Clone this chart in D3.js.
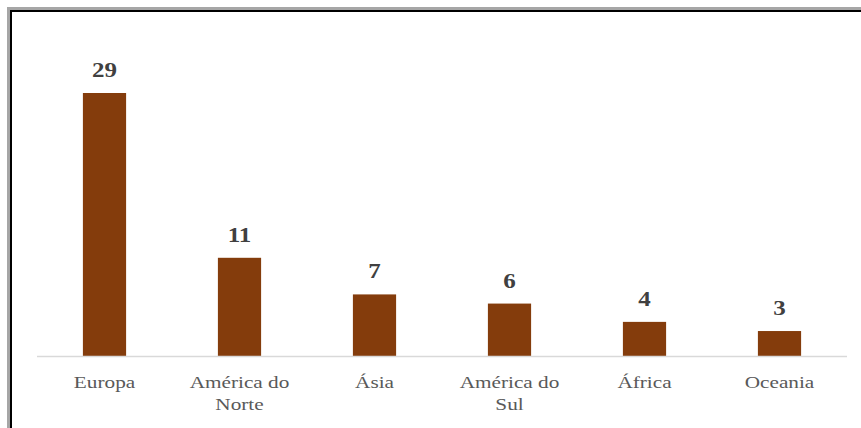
<!DOCTYPE html>
<html>
<head>
<meta charset="utf-8">
<script src="https://cdn.jsdelivr.net/npm/d3@7"></script>
<style>
  body { margin: 0; background: #fff; }
  svg text { font-family: "Liberation Serif", "Times New Roman", Times, serif; }
</style>
</head>
<body>
<script>
const regions = ["Europa", "América do Norte", "Ásia", "América do Sul", "África", "Oceania"];
const counts = [29, 11, 7, 6, 4, 3];
const labelLines = [["Europa"], ["América do", "Norte"], ["Ásia"], ["América do", "Sul"], ["África"], ["Oceania"]];

const width = 861, height = 428;
const stretch = 1.25; // glyphs in the picture look wide

const svg = d3.select("body").append("svg")
  .attr("width", width)
  .attr("height", height);

// frame: grey outer edge, black inner edge (top and left only, picture is cropped)
svg.append("rect").attr("x", 7).attr("y", 7).attr("width", width).attr("height", height)
  .attr("fill", "#a6a6a6");
svg.append("rect").attr("x", 10).attr("y", 10).attr("width", width).attr("height", height)
  .attr("fill", "#000");
svg.append("rect").attr("x", 12).attr("y", 12).attr("width", width).attr("height", height)
  .attr("fill", "#fff");

const x = d3.scaleBand()
  .domain(regions)
  .range([37, 847])
  .paddingInner(0.68)
  .paddingOuter(0.34);

const y = d3.scaleLinear()
  .domain([0, 29])
  .range([358.5, 93]);

const baseY = 357;

svg.append("g")
  .selectAll("rect")
  .data(counts)
  .join("rect")
  .attr("x", (d, i) => x(regions[i]))
  .attr("y", d => y(d))
  .attr("width", x.bandwidth())
  .attr("height", d => baseY - y(d))
  .attr("fill", "#843c0c");

// category axis line
svg.append("line")
  .attr("x1", x.range()[0])
  .attr("x2", x.range()[1])
  .attr("y1", baseY - 0.5)
  .attr("y2", baseY - 0.5)
  .attr("stroke", "#d9d9d9")
  .attr("stroke-width", 1.5);

// value labels
svg.append("g")
  .selectAll("g")
  .data(counts)
  .join("g")
  .attr("transform", (d, i) => `translate(${x(regions[i]) + x.bandwidth() / 2},${y(d) - 16}) scale(${stretch},1)`)
  .append("text")
  .attr("text-anchor", "middle")
  .attr("font-weight", "bold")
  .attr("font-size", 20)
  .attr("fill", "#404040")
  .text(d => d);

// category labels
const cat = svg.append("g")
  .selectAll("g")
  .data(regions)
  .join("g")
  .attr("transform", d => `translate(${x(d) + x.bandwidth() / 2},388) scale(${stretch},1)`);

cat.append("text")
  .attr("text-anchor", "middle")
  .attr("font-size", 17)
  .attr("fill", "#595959")
  .selectAll("tspan")
  .data((d, i) => labelLines[i])
  .join("tspan")
  .attr("x", 0)
  .attr("dy", (d, j) => j === 0 ? 0 : 22)
  .text(d => d);
</script>
</body>
</html>
